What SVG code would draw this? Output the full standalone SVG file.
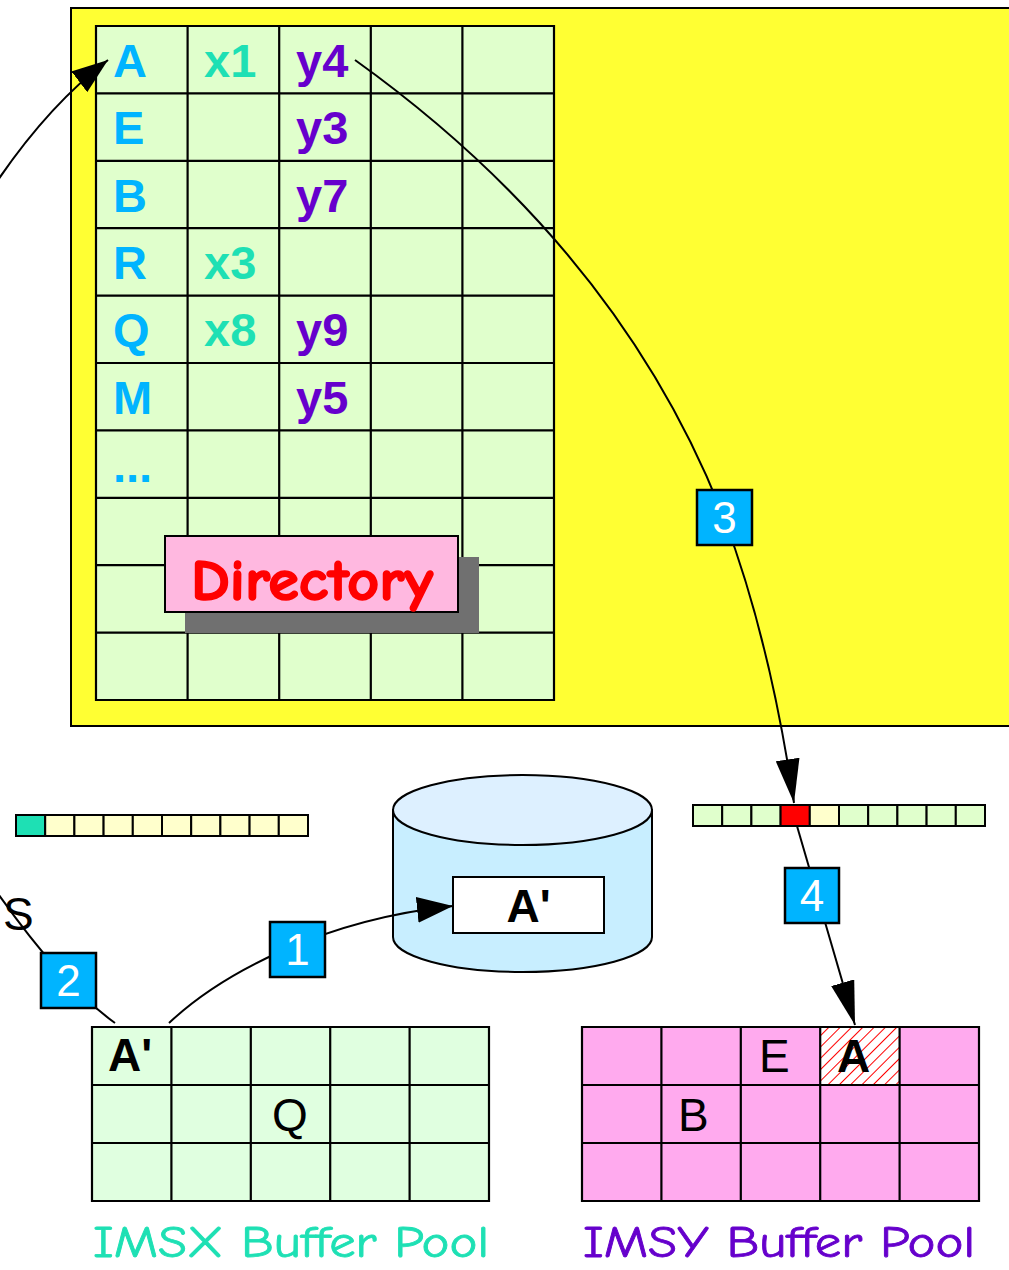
<svg xmlns="http://www.w3.org/2000/svg" width="1009" height="1270" viewBox="0 0 1009 1270">
<defs>
<style>
.grid{stroke:#000;stroke-width:2.2;fill:none}
.key{font-family:"Liberation Sans",Arial,sans-serif;font-weight:bold;font-size:47px;fill:#00b4ff}
.xv{font-family:"Liberation Sans",Arial,sans-serif;font-weight:bold;font-size:47px;fill:#1ee0b4}
.yv{font-family:"Liberation Sans",Arial,sans-serif;font-weight:bold;font-size:47px;fill:#6600cc}
.box rect{fill:#00b4ff;stroke:#000;stroke-width:2.5}
.box text{font-family:"Liberation Sans",Arial,sans-serif;font-size:44px;fill:#fff;text-anchor:middle}
.conn{fill:none;stroke:#000;stroke-width:2}
.cell{font-family:"Liberation Sans",Arial,sans-serif;font-size:46px;fill:#000}
.bold{font-weight:bold}
.comic{font-family:"Comic Sans MS","Comic Neue","DejaVu Sans",sans-serif}
.bar rect{stroke:#000;stroke-width:2}
</style>
<marker id="ah" viewBox="0 0 44 24" refX="44" refY="12" markerWidth="44" markerHeight="24" markerUnits="userSpaceOnUse" orient="auto">
<path d="M0,0 L44,12 L0,24 Z" fill="#000"/>
</marker>
<marker id="ahs" viewBox="0 0 36 26" refX="36" refY="13" markerWidth="36" markerHeight="26" markerUnits="userSpaceOnUse" orient="auto">
<path d="M0,0 L36,13 L0,26 Z" fill="#000"/>
</marker>
<pattern id="hatch" patternUnits="userSpaceOnUse" width="8" height="8" patternTransform="rotate(45)">
<rect width="8" height="8" fill="#fff"/>
<line x1="0" y1="0" x2="0" y2="8" stroke="#ff0000" stroke-width="2"/>
</pattern>
</defs>

<g id="system-box">
<rect x="71" y="8" width="950" height="718" fill="#ffff33" stroke="#000" stroke-width="2"/>
</g>

<g id="directory-table">
<rect x="96" y="26" width="458" height="674" fill="#e0ffcc"/>
<path class="grid" d="M96,26H554V700H96Z M187.6,26V700 M279.2,26V700 M370.8,26V700 M462.4,26V700 M96,93.4H554 M96,160.8H554 M96,228.2H554 M96,295.6H554 M96,363H554 M96,430.4H554 M96,497.8H554 M96,565.2H554 M96,632.6H554"/>
<text class="key" x="113" y="77">A</text>
<text class="key" x="113" y="144">E</text>
<text class="key" x="113" y="212">B</text>
<text class="key" x="113" y="279">R</text>
<text class="key" x="113" y="346">Q</text>
<text class="key" x="113" y="414">M</text>
<text class="key" x="113" y="482">...</text>
<text class="xv" x="204" y="77">x1</text>
<text class="xv" x="204" y="279">x3</text>
<text class="xv" x="204" y="346">x8</text>
<text class="yv" x="296" y="77">y4</text>
<text class="yv" x="296" y="144">y3</text>
<text class="yv" x="296" y="212">y7</text>
<text class="yv" x="296" y="346">y9</text>
<text class="yv" x="296" y="414">y5</text>
</g>

<g id="directory-label">
<rect x="185" y="557" width="294" height="76" fill="#707070"/>
<rect x="165" y="536" width="293" height="76" fill="#ffb8e0" stroke="#000" stroke-width="2"/>
<text class="comic" x="191" y="600" font-size="58" font-weight="bold" fill="#ff0000" stroke="#ff0000" stroke-width="1.6" textLength="242" lengthAdjust="spacingAndGlyphs">Directory</text>
</g>

<g id="imsx-lock-bar" class="bar">
<rect x="16" y="815" width="29.2" height="21" fill="#1ee0b4"/>
<rect x="45.2" y="815" width="29.2" height="21" fill="#ffffcc"/>
<rect x="74.4" y="815" width="29.2" height="21" fill="#ffffcc"/>
<rect x="103.6" y="815" width="29.2" height="21" fill="#ffffcc"/>
<rect x="132.8" y="815" width="29.2" height="21" fill="#ffffcc"/>
<rect x="162" y="815" width="29.2" height="21" fill="#ffffcc"/>
<rect x="191.2" y="815" width="29.2" height="21" fill="#ffffcc"/>
<rect x="220.4" y="815" width="29.2" height="21" fill="#ffffcc"/>
<rect x="249.6" y="815" width="29.2" height="21" fill="#ffffcc"/>
<rect x="278.8" y="815" width="29.2" height="21" fill="#ffffcc"/>
</g>

<g id="imsy-lock-bar" class="bar">
<rect x="693" y="805" width="29.2" height="21" fill="#e0ffcc"/>
<rect x="722.2" y="805" width="29.2" height="21" fill="#e0ffcc"/>
<rect x="751.4" y="805" width="29.2" height="21" fill="#e0ffcc"/>
<rect x="780.6" y="805" width="29.2" height="21" fill="#ff0000"/>
<rect x="809.8" y="805" width="29.2" height="21" fill="#ffffcc"/>
<rect x="839" y="805" width="29.2" height="21" fill="#e0ffcc"/>
<rect x="868.2" y="805" width="29.2" height="21" fill="#e0ffcc"/>
<rect x="897.4" y="805" width="29.2" height="21" fill="#e0ffcc"/>
<rect x="926.6" y="805" width="29.2" height="21" fill="#e0ffcc"/>
<rect x="955.8" y="805" width="29.2" height="21" fill="#e0ffcc"/>
</g>

<g id="disk">
<path d="M393,810 V937 A129.5,35 0 0 0 652,937 V810 Z" fill="#c8eeff" stroke="#000" stroke-width="2"/>
<ellipse cx="522.5" cy="810" rx="129.5" ry="35" fill="#ddf0ff" stroke="#000" stroke-width="2"/>
<rect x="453" y="877" width="151" height="56" fill="#fff" stroke="#000" stroke-width="2"/>
<text class="cell bold" x="528.5" y="922" text-anchor="middle" font-size="44">A'</text>
</g>

<g id="imsx-buffer-pool">
<rect x="92" y="1027" width="397" height="174" fill="#e0ffe0"/>
<path class="grid" d="M92,1027H489V1201H92Z M171.4,1027V1201 M250.8,1027V1201 M330.2,1027V1201 M409.6,1027V1201 M92,1085H489 M92,1143H489"/>
<text class="cell bold" x="108" y="1071" font-size="44">A'</text>
<text class="cell" x="272" y="1131">Q</text>
<text class="comic" x="93" y="1257" font-size="44" fill="#1ee0b4" stroke="#1ee0b4" stroke-width="0.8" textLength="396" lengthAdjust="spacingAndGlyphs">IMSX Buffer Pool</text>
</g>

<g id="imsy-buffer-pool">
<rect x="582" y="1027" width="397" height="174" fill="#ffaaee"/>
<rect x="820.2" y="1027" width="79.4" height="58" fill="url(#hatch)"/>
<path class="grid" d="M582,1027H979V1201H582Z M661.4,1027V1201 M740.8,1027V1201 M820.2,1027V1201 M899.6,1027V1201 M582,1085H979 M582,1143H979"/>
<text class="cell" x="759" y="1072">E</text>
<text class="cell bold" x="837" y="1072">A</text>
<text class="cell" x="678" y="1131">B</text>
<text class="comic" x="583" y="1257" font-size="44" fill="#6600cc" stroke="#6600cc" stroke-width="0.8" textLength="392" lengthAdjust="spacingAndGlyphs">IMSY Buffer Pool</text>
</g>

<g id="s-label">
<text class="cell" x="3" y="930" font-size="46">S</text>
</g>

<g id="connectors">
<path class="conn" d="M-10,192 Q45,108 108,60" marker-end="url(#ahs)"/>
<path class="conn" d="M355,60 Q620,250 724,518 Q770,640 794,803" marker-end="url(#ah)"/>
<path class="conn" d="M797,826 L855,1025" marker-end="url(#ah)"/>
<path class="conn" d="M169,1023 C220,975 320,920 453,906" marker-end="url(#ahs)"/>
<path class="conn" d="M-6,888 Q62,985 115,1023"/>
</g>

<g id="step-1" class="box"><rect x="270" y="922" width="55" height="55"/><text x="297.5" y="965">1</text></g>
<g id="step-2" class="box"><rect x="41" y="953" width="55" height="55"/><text x="68.5" y="996">2</text></g>
<g id="step-3" class="box"><rect x="697" y="490" width="55" height="55"/><text x="724.5" y="533">3</text></g>
<g id="step-4" class="box"><rect x="785" y="868" width="54" height="55"/><text x="812" y="911">4</text></g>
</svg>
